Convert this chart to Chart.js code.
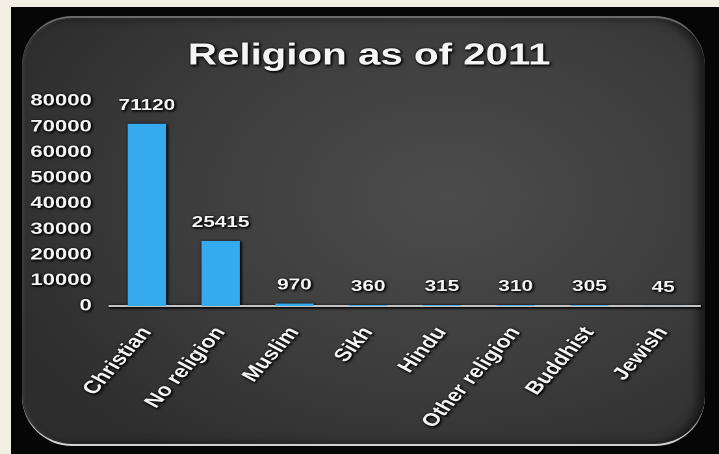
<!DOCTYPE html>
<html>
<head>
<meta charset="utf-8">
<title>Religion as of 2011</title>
<script src="https://cdn.jsdelivr.net/npm/chart.js@4.4.1/dist/chart.umd.min.js"></script>
<style>
  html, body { margin: 0; padding: 0; width: 719px; height: 454px; overflow: hidden; background: #f2eee3; }
  #frame { position: absolute; left: 11px; top: 7px; width: 708px; height: 447px; background: #060606; }
  #panel {
    position: absolute; left: 22px; top: 16px; width: 683px; height: 426px;
    border-radius: 50px;
    border-top: 2px solid #6a6a6a;
    border-bottom: 2px solid #d2d2d2;
    background: radial-gradient(ellipse 70% 75% at 62% 42%, #4c4c4c 0%, #3d3d3d 55%, #2d2d2d 100%);
    box-shadow: inset 2px 0 3px rgba(255,255,255,0.08), inset -7px 0 10px rgba(0,0,0,0.55);
  }
  /* the chart is laid out narrow and stretched sideways to get the wide lettering */
  #grafico {
    position: absolute; left: 0; top: 0;
    transform: scaleX(1.3); transform-origin: 0 0;
    filter: drop-shadow(1px 1px 1px rgba(0,0,0,0.95)) drop-shadow(0 0 1px rgba(0,0,0,0.8));
  }
</style>
</head>
<body>
<div id="frame"></div>
<div id="panel"></div>
<canvas id="grafico" width="553" height="454" style="width:553px;height:454px"></canvas>
<script>
const TITULO = 'Religion as of 2011';
const categorias = ['Christian', 'No religion', 'Muslim', 'Sikh', 'Hindu', 'Other religion', 'Buddhist', 'Jewish'];
const valores = [71120, 25415, 970, 360, 315, 310, 305, 45];
const Y_MIN = 0;
const Y_MAX = 80000;
const Y_PASSO = 10000;

const FONTE = '"Liberation Sans", Arial, sans-serif';
const BRANCO = '#f5f5f5';

// title sits a little right of the canvas centre, so it is drawn by hand
const tituloFixo = {
    id: 'tituloFixo',
    afterDraw(chart) {
        const ctx = chart.ctx;
        ctx.save();
        ctx.font = `bold 31px ${FONTE}`;
        ctx.fillStyle = BRANCO;
        ctx.textAlign = 'center';
        ctx.textBaseline = 'middle';
        ctx.fillText(TITULO, 284, 56);
        ctx.restore();
    }
};

// writes each bar's value above it
const rotulosValores = {
    id: 'rotulosValores',
    afterDatasetsDraw(chart) {
        const ctx = chart.ctx;
        const meta = chart.getDatasetMeta(0);
        ctx.save();
        ctx.font = `bold 16px ${FONTE}`;
        ctx.fillStyle = BRANCO;
        ctx.textAlign = 'center';
        ctx.textBaseline = 'alphabetic';
        meta.data.forEach((barra, i) => {
            ctx.fillText(String(valores[i]), barra.x, barra.y - 14);
        });
        ctx.restore();
    }
};

const grafico = new Chart(document.getElementById('grafico'), {
    type: 'bar',
    data: {
        labels: categorias,
        datasets: [{
            data: valores,
            backgroundColor: '#36aaef',
            borderWidth: 0,
            barPercentage: 0.52,
            categoryPercentage: 1.0
        }]
    },
    options: {
        responsive: false,
        animation: false,
        devicePixelRatio: 2,
        layout: { padding: { left: 0, right: 14.5, top: 101, bottom: 8 } },
        plugins: {
            legend: { display: false },
            tooltip: { enabled: false },
            title: { display: false }
        },
        scales: {
            x: {
                grid: { display: false, drawTicks: false },
                border: { display: true, color: '#c4c4c4', width: 2 },
                ticks: {
                    color: BRANCO,
                    font: { family: FONTE, size: 18, weight: 'bold' },
                    minRotation: 55,
                    maxRotation: 55,
                    padding: 17,
                    autoSkip: false
                },
                afterFit(scale) { scale.height = 140; }
            },
            y: {
                min: Y_MIN,
                max: Y_MAX,
                grid: { display: false, drawTicks: false },
                border: { display: false },
                ticks: {
                    stepSize: Y_PASSO,
                    color: BRANCO,
                    font: { family: FONTE, size: 17, weight: 'bold' },
                    padding: 14,
                    callback: v => String(v)
                },
                afterFit(scale) { scale.width = 84.6; }
            }
        }
    },
    plugins: [rotulosValores, tituloFixo]
});
</script>
</body>
</html>
